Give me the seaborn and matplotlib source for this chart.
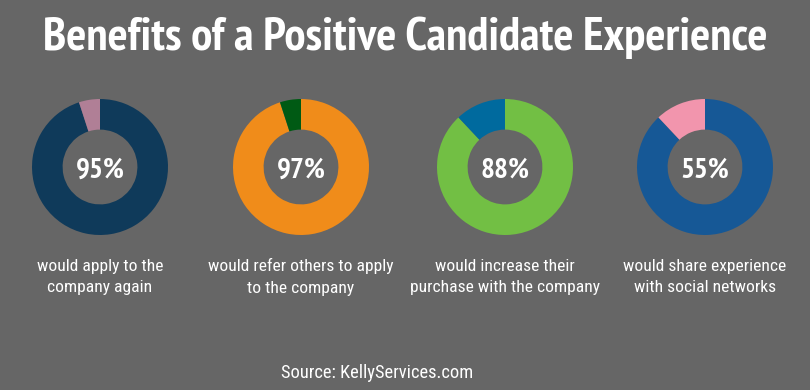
import matplotlib
matplotlib.use("Agg")
import matplotlib.pyplot as plt
import seaborn as sns

BG = '#666666'

# shares shown by the rings (read from the arcs) and the printed labels
ring_main = [95, 95, 88, 88]
ring_rest = [5, 5, 12, 12]
pct_labels = ['95%', '97%', '88%', '55%']
captions = [
    'would apply to the\ncompany again',
    'would refer others to apply\nto the company',
    'would increase their\npurchase with the company',
    'would share experience\nwith social networks',
]
main_colors = ['#0f3a5a', '#f08c1a', '#72bf44', '#165896']
rest_colors = ['#b07f96', '#005a14', '#006a9e', '#f295ad']

sns.set_theme(style='white', rc={'figure.facecolor': BG, 'axes.facecolor': BG})
plt.rcParams['font.family'] = ['Roboto Condensed', 'DejaVu Sans']
HEAD = ['PT Sans Narrow', 'DejaVu Sans']

W, H = 810, 390
fig = plt.figure(figsize=(W / 100, H / 100), dpi=100)

centers_x = [100, 301, 505, 705]
cy = 167
r = 68

for i in range(4):
    ax = fig.add_axes([(centers_x[i] - r) / W, 1 - (cy + r) / H, 2 * r / W, 2 * r / H])
    ax.pie([ring_main[i], ring_rest[i]], colors=[main_colors[i], rest_colors[i]],
           startangle=90, counterclock=False, radius=1,
           wedgeprops=dict(width=0.45, edgecolor='none'))
    ax.set_xlim(-1, 1)
    ax.set_ylim(-1, 1)
    ax.set_aspect('equal')
    ax.axis('off')
    ax.text(0, -0.05, pct_labels[i], ha='center', va='center', color='white',
            fontsize=21, fontweight='bold', family=HEAD)
    fig.text(centers_x[i] / W, 1 - 277 / H, captions[i], ha='center', va='center',
             color='white', fontsize=12.6, linespacing=1.55)

fig.text(0.5, 1 - 38 / H, 'Benefits of a Positive Candidate Experience', ha='center',
         va='center', color='white', fontsize=34, fontweight='bold', family=HEAD)
fig.text(377 / W, 1 - 373 / H, 'Source: KellyServices.com', ha='center', va='center',
         color='white', fontsize=13.3)

fig.savefig('out.png', dpi=100, facecolor=BG)
